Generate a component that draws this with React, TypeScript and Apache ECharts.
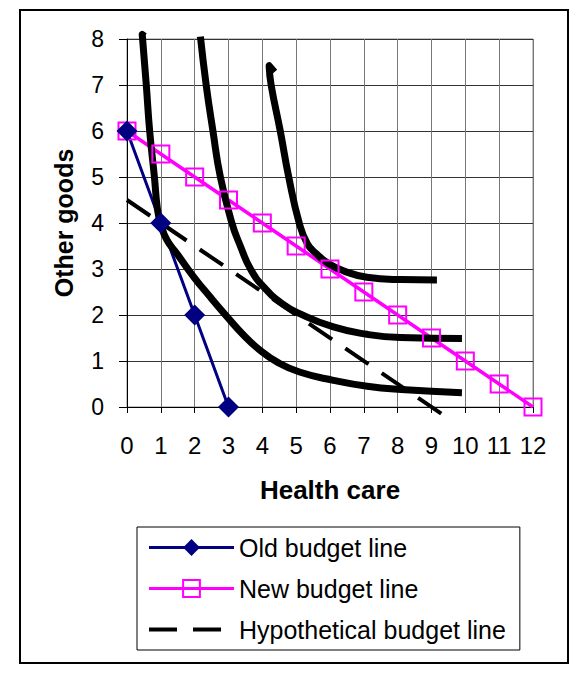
import React, { useEffect, useRef } from "react";
import * as echarts from "echarts";

const seriesNames = ["Old budget line", "New budget line", "Hypothetical budget line"];
const xAxisTitle = "Health care";
const yAxisTitle = "Other goods";

const oldBudgetLine = [[0, 6], [1, 4], [2, 2], [3, 0]];
const newBudgetLine = [
  [0, 6], [1, 5.5], [2, 5], [3, 4.5], [4, 4], [5, 3.5], [6, 3],
  [7, 2.5], [8, 2], [9, 1.5], [10, 1], [11, 0.5], [12, 0],
];
const hypotheticalBudgetLine = [[0, 4.5], [9.5, -0.25]];

const indifferenceLow = [
  [0.52, 8.06], [0.45, 8.1], [0.57, 7], [0.67, 6], [0.81, 5], [0.9, 4.3],
  [1.0, 3.97], [1.18, 3.63], [1.48, 3.33], [1.97, 2.83], [2.46, 2.39],
  [2.96, 1.96], [3.45, 1.56], [3.94, 1.23], [4.43, 0.98], [5.1, 0.76],
  [6.1, 0.58], [7.1, 0.45], [8.1, 0.38], [9.9, 0.31],
];
const indifferenceMid = [
  [2.17, 8.05], [2.34, 7], [2.54, 6], [2.76, 5], [3.1, 4], [3.35, 3.5],
  [3.65, 3], [4.04, 2.61], [4.58, 2.25], [5.1, 2.03], [6.1, 1.74],
  [7.09, 1.58], [8.08, 1.51], [9.9, 1.49],
];
const indifferenceHigh = [
  [4.36, 7.28], [4.2, 7.42], [4.26, 7], [4.53, 6], [4.78, 5], [5.09, 4],
  [5.33, 3.55], [5.6, 3.33], [5.95, 3.12], [6.4, 2.96], [7.09, 2.82],
  [8.08, 2.77], [9.16, 2.76],
];

const FONT = "'Liberation Sans', Arial, Helvetica, sans-serif";
const NAVY = "#000080";
const MAGENTA = "#FF00FF";

export default function App() {
  const ref = useRef<HTMLDivElement>(null);

  useEffect(() => {
    if (!ref.current) return;
    const chart = echarts.init(ref.current, undefined, { renderer: "svg" });

    const curve = (name: string, data: number[][]) => ({
      name,
      type: "line",
      data,
      smooth: 0.5,
      symbol: "none",
      clip: false,
      silent: true,
      lineStyle: { color: "#000", width: 7, cap: "butt", join: "round" },
    });

    chart.setOption({
      animation: false,
      textStyle: { fontFamily: FONT, color: "#000" },
      graphic: [
        {
          type: "rect",
          shape: { x: 20, y: 10, width: 548, height: 653 },
          style: { fill: "none", stroke: "#000", lineWidth: 2 },
          z: -10,
        },
      ],
      grid: {
        left: 127,
        top: 39,
        width: 406,
        height: 368,
        show: true,
        borderColor: "#888",
        borderWidth: 1,
        backgroundColor: "transparent",
      },
      xAxis: {
        type: "value",
        min: 0,
        max: 12,
        interval: 1,
        name: xAxisTitle,
        nameLocation: "middle",
        nameGap: 70,
        nameTextStyle: { fontSize: 26, fontWeight: "bold", color: "#000", fontFamily: FONT },
        axisLine: { show: true, onZero: false, lineStyle: { color: "#000", width: 1 } },
        axisTick: { show: true, length: 6, lineStyle: { color: "#000" } },
        axisLabel: { fontSize: 24, color: "#000", margin: 26, fontFamily: FONT },
        splitLine: { show: true, lineStyle: { color: "#777", width: 1 } },
      },
      yAxis: {
        type: "value",
        min: 0,
        max: 8,
        interval: 1,
        name: yAxisTitle,
        nameLocation: "middle",
        nameGap: 51,
        nameTextStyle: { fontSize: 25, fontWeight: "bold", color: "#000", fontFamily: FONT },
        axisLine: { show: true, onZero: false, lineStyle: { color: "#000", width: 1 } },
        axisTick: { show: true, length: 8, lineStyle: { color: "#000" } },
        axisLabel: { fontSize: 23, color: "#000", margin: 23, fontFamily: FONT },
        splitLine: { show: true, lineStyle: { color: "#333", width: 1 } },
      },
      legend: {
        orient: "vertical",
        left: 137,
        top: 527,
        padding: [8, 14, 8, 10],
        itemGap: 16,
        itemWidth: 85,
        itemHeight: 21,
        borderColor: "#000",
        borderWidth: 1,
        selectedMode: false,
        textStyle: { fontSize: 25, color: "#000", fontFamily: FONT },
        data: [
          { name: seriesNames[0], lineStyle: { width: 3, color: NAVY }, itemStyle: { color: NAVY } },
          {
            name: seriesNames[1],
            lineStyle: { width: 3, color: MAGENTA },
            itemStyle: { color: "transparent", borderColor: MAGENTA, borderWidth: 2 },
          },
          {
            name: seriesNames[2],
            lineStyle: { width: 4, color: "#000", type: [28, 16] },
            itemStyle: { opacity: 0 },
          },
        ],
      },
      series: [
        {
          name: seriesNames[1],
          type: "line",
          data: newBudgetLine,
          symbol: "rect",
          symbolSize: 17,
          lineStyle: { color: MAGENTA, width: 3.5 },
          itemStyle: { color: "transparent", borderColor: MAGENTA, borderWidth: 2 },
        },
        {
          name: seriesNames[0],
          type: "line",
          data: oldBudgetLine,
          symbol: "diamond",
          symbolSize: 21,
          lineStyle: { color: NAVY, width: 3 },
          itemStyle: { color: NAVY },
        },
        {
          name: seriesNames[2],
          type: "line",
          data: hypotheticalBudgetLine,
          symbol: "none",
          clip: false,
          lineStyle: { color: "#000", width: 4, type: [28, 16] },
        },
        curve("IC low", indifferenceLow),
        curve("IC mid", indifferenceMid),
        curve("IC high", indifferenceHigh),
      ],
    });

    return () => chart.dispose();
  }, []);

  return (
    <div
      ref={ref}
      style={{ position: "fixed", left: 0, top: 0, width: 586, height: 675, background: "#fff" }}
    />
  );
}
